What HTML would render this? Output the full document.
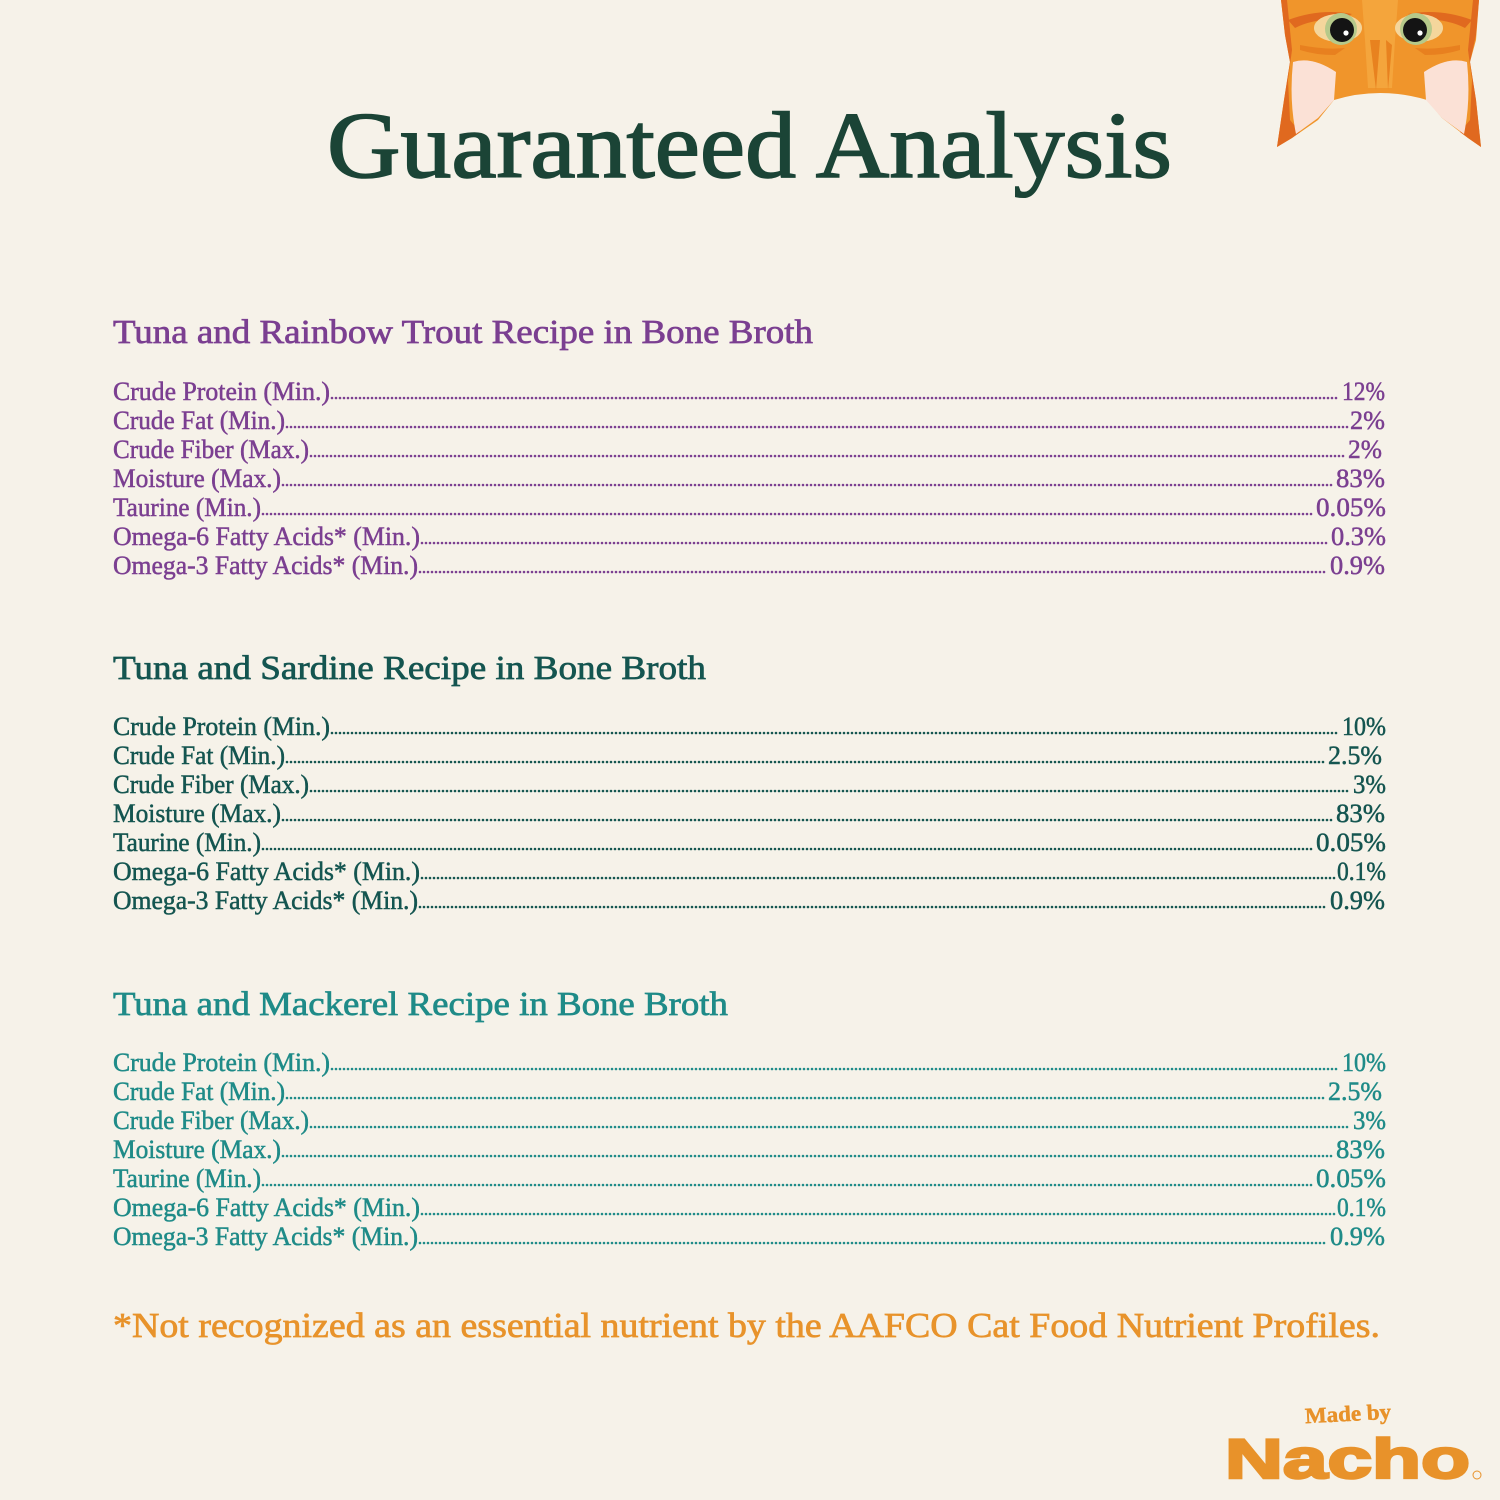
<!DOCTYPE html>
<html>
<head>
<meta charset="utf-8">
<style>
html,body{margin:0;padding:0;background:#f6f2e9;}
svg{display:block;}
</style>
</head>
<body>
<svg width="1500" height="1500" viewBox="0 0 1500 1500" xmlns="http://www.w3.org/2000/svg">
<rect width="1500" height="1500" fill="#f6f2e9"/>

<!-- Cat -->
<g>
  <path d="M1281,0 L1479,0 L1476,40 L1470,62 L1476,100 L1481,147 L1468,138 L1442,118 L1427,100 Q1380,86 1334,100 L1318,120 L1292,138 L1277,147 L1284,100 L1290,62 L1285,35 Z" fill="#f0952b"/>
  <path d="M1281,0 L1285,35 L1290,62 L1284,100 L1277,147 L1292,138 L1300,132 L1290,120 L1288,80 L1292,50 L1287,0 Z" fill="#e0691f"/>
  <path d="M1479,0 L1476,35 L1470,62 L1476,100 L1481,147 L1468,138 L1460,132 L1470,120 L1472,80 L1468,50 L1473,0 Z" fill="#e0691f"/>
  <path d="M1362,0 L1398,0 L1395,40 L1392,88 L1368,88 L1365,40 Z" fill="#f4a53c"/>
  <path d="M1370,40 L1376,90 L1380,40 Z M1386,40 L1388,90 L1392,45 Z" fill="#e8821f"/>
  <path d="M1293,62 Q1312,56 1336,72 L1334,100 L1318,118 L1296,134 Q1289,100 1293,62 Z" fill="#fbe1d6"/>
  <path d="M1467,62 Q1448,56 1424,72 L1426,100 L1442,118 L1464,134 Q1471,100 1467,62 Z" fill="#fbe1d6"/>
  <path d="M1288,20 Q1320,8 1352,14 L1340,20 Q1315,18 1295,28 Z" fill="#e0691f"/>
  <path d="M1472,20 Q1440,8 1408,14 L1420,20 Q1445,18 1465,28 Z" fill="#e0691f"/>
  <ellipse cx="1338" cy="28" rx="24" ry="14" fill="#f4d69c"/>
  <ellipse cx="1419" cy="28" rx="24" ry="14" fill="#f4d69c"/>
  <circle cx="1341" cy="29" r="16" fill="#b6c98a"/>
  <circle cx="1416" cy="29" r="16" fill="#b6c98a"/>
  <circle cx="1342" cy="30" r="12" fill="#141414"/>
  <circle cx="1415" cy="30" r="12" fill="#141414"/>
  <circle cx="1346" cy="33" r="2.6" fill="#ffffff"/>
  <circle cx="1420" cy="33" r="2.6" fill="#ffffff"/>
  <path d="M1300,45 Q1325,50 1345,48 L1335,55 Q1315,55 1300,50 Z" fill="#e8801f"/>
  <path d="M1460,45 Q1435,50 1415,48 L1425,55 Q1445,55 1460,50 Z" fill="#e8801f"/>
</g>

<!-- Title -->
<text x="327" y="177" font-family="Liberation Serif, serif" font-size="94" fill="#1b4436" stroke="#1b4436" stroke-width="1.6" textLength="845" lengthAdjust="spacingAndGlyphs">Guaranteed Analysis</text>

<!-- Section 1 -->
<g font-family="Liberation Serif, serif" fill="#7b3f91" stroke="#7b3f91" stroke-width="0.5">
  <text x="113" y="343" font-size="34" stroke-width="0.7" textLength="700" lengthAdjust="spacingAndGlyphs">Tuna and Rainbow Trout Recipe in Bone Broth</text>
  <g font-size="26">
    <text x="113" y="400" textLength="217" lengthAdjust="spacingAndGlyphs">Crude Protein (Min.)</text>
    <text x="1342" y="400" textLength="43" lengthAdjust="spacingAndGlyphs">12%</text>
    <text x="113" y="429" textLength="172" lengthAdjust="spacingAndGlyphs">Crude Fat (Min.)</text>
    <text x="1350" y="429" textLength="35" lengthAdjust="spacingAndGlyphs">2%</text>
    <text x="113" y="458" textLength="196" lengthAdjust="spacingAndGlyphs">Crude Fiber (Max.)</text>
    <text x="1348" y="458" textLength="34" lengthAdjust="spacingAndGlyphs">2%</text>
    <text x="113" y="487" textLength="168" lengthAdjust="spacingAndGlyphs">Moisture (Max.)</text>
    <text x="1336" y="487" textLength="49" lengthAdjust="spacingAndGlyphs">83%</text>
    <text x="113" y="516" textLength="148" lengthAdjust="spacingAndGlyphs">Taurine (Min.)</text>
    <text x="1316" y="516" textLength="70" lengthAdjust="spacingAndGlyphs">0.05%</text>
    <text x="113" y="545" textLength="307" lengthAdjust="spacingAndGlyphs">Omega-6 Fatty Acids* (Min.)</text>
    <text x="1331" y="545" textLength="55" lengthAdjust="spacingAndGlyphs">0.3%</text>
    <text x="113" y="574" textLength="305" lengthAdjust="spacingAndGlyphs">Omega-3 Fatty Acids* (Min.)</text>
    <text x="1330" y="574" textLength="55" lengthAdjust="spacingAndGlyphs">0.9%</text>
  </g>
  <g stroke="#7b3f91" stroke-width="2.6" stroke-linecap="round" stroke-dasharray="0 4" fill="none">
    <line x1="332" y1="398" x2="1340" y2="398"/>
    <line x1="287" y1="427" x2="1348" y2="427"/>
    <line x1="311" y1="456" x2="1346" y2="456"/>
    <line x1="283" y1="485" x2="1334" y2="485"/>
    <line x1="263" y1="514" x2="1314" y2="514"/>
    <line x1="422" y1="543" x2="1329" y2="543"/>
    <line x1="420" y1="572" x2="1328" y2="572"/>
  </g>
</g>

<!-- Section 2 -->
<g font-family="Liberation Serif, serif" fill="#145550" stroke="#145550" stroke-width="0.5">
  <text x="113" y="679" font-size="34" stroke-width="0.7" textLength="593" lengthAdjust="spacingAndGlyphs">Tuna and Sardine Recipe in Bone Broth</text>
  <g font-size="26">
    <text x="113" y="735" textLength="217" lengthAdjust="spacingAndGlyphs">Crude Protein (Min.)</text>
    <text x="1342" y="735" textLength="44" lengthAdjust="spacingAndGlyphs">10%</text>
    <text x="113" y="764" textLength="172" lengthAdjust="spacingAndGlyphs">Crude Fat (Min.)</text>
    <text x="1328" y="764" textLength="54" lengthAdjust="spacingAndGlyphs">2.5%</text>
    <text x="113" y="793" textLength="196" lengthAdjust="spacingAndGlyphs">Crude Fiber (Max.)</text>
    <text x="1353" y="793" textLength="33" lengthAdjust="spacingAndGlyphs">3%</text>
    <text x="113" y="822" textLength="168" lengthAdjust="spacingAndGlyphs">Moisture (Max.)</text>
    <text x="1336" y="822" textLength="49" lengthAdjust="spacingAndGlyphs">83%</text>
    <text x="113" y="851" textLength="148" lengthAdjust="spacingAndGlyphs">Taurine (Min.)</text>
    <text x="1316" y="851" textLength="70" lengthAdjust="spacingAndGlyphs">0.05%</text>
    <text x="113" y="880" textLength="307" lengthAdjust="spacingAndGlyphs">Omega-6 Fatty Acids* (Min.)</text>
    <text x="1337" y="880" textLength="49" lengthAdjust="spacingAndGlyphs">0.1%</text>
    <text x="113" y="909" textLength="305" lengthAdjust="spacingAndGlyphs">Omega-3 Fatty Acids* (Min.)</text>
    <text x="1330" y="909" textLength="55" lengthAdjust="spacingAndGlyphs">0.9%</text>
  </g>
  <g stroke="#145550" stroke-width="2.6" stroke-linecap="round" stroke-dasharray="0 4" fill="none">
    <line x1="332" y1="733" x2="1340" y2="733"/>
    <line x1="287" y1="762" x2="1326" y2="762"/>
    <line x1="311" y1="791" x2="1351" y2="791"/>
    <line x1="283" y1="820" x2="1334" y2="820"/>
    <line x1="263" y1="849" x2="1314" y2="849"/>
    <line x1="422" y1="878" x2="1335" y2="878"/>
    <line x1="420" y1="907" x2="1328" y2="907"/>
  </g>
</g>

<!-- Section 3 -->
<g font-family="Liberation Serif, serif" fill="#1f8b88" stroke="#1f8b88" stroke-width="0.5">
  <text x="113" y="1015" font-size="34" stroke-width="0.7" textLength="615" lengthAdjust="spacingAndGlyphs">Tuna and Mackerel Recipe in Bone Broth</text>
  <g font-size="26">
    <text x="113" y="1071" textLength="217" lengthAdjust="spacingAndGlyphs">Crude Protein (Min.)</text>
    <text x="1342" y="1071" textLength="44" lengthAdjust="spacingAndGlyphs">10%</text>
    <text x="113" y="1100" textLength="172" lengthAdjust="spacingAndGlyphs">Crude Fat (Min.)</text>
    <text x="1328" y="1100" textLength="54" lengthAdjust="spacingAndGlyphs">2.5%</text>
    <text x="113" y="1129" textLength="196" lengthAdjust="spacingAndGlyphs">Crude Fiber (Max.)</text>
    <text x="1353" y="1129" textLength="33" lengthAdjust="spacingAndGlyphs">3%</text>
    <text x="113" y="1158" textLength="168" lengthAdjust="spacingAndGlyphs">Moisture (Max.)</text>
    <text x="1336" y="1158" textLength="49" lengthAdjust="spacingAndGlyphs">83%</text>
    <text x="113" y="1187" textLength="148" lengthAdjust="spacingAndGlyphs">Taurine (Min.)</text>
    <text x="1316" y="1187" textLength="70" lengthAdjust="spacingAndGlyphs">0.05%</text>
    <text x="113" y="1216" textLength="307" lengthAdjust="spacingAndGlyphs">Omega-6 Fatty Acids* (Min.)</text>
    <text x="1337" y="1216" textLength="49" lengthAdjust="spacingAndGlyphs">0.1%</text>
    <text x="113" y="1245" textLength="305" lengthAdjust="spacingAndGlyphs">Omega-3 Fatty Acids* (Min.)</text>
    <text x="1330" y="1245" textLength="55" lengthAdjust="spacingAndGlyphs">0.9%</text>
  </g>
  <g stroke="#1f8b88" stroke-width="2.6" stroke-linecap="round" stroke-dasharray="0 4" fill="none">
    <line x1="332" y1="1069" x2="1340" y2="1069"/>
    <line x1="287" y1="1098" x2="1326" y2="1098"/>
    <line x1="311" y1="1127" x2="1351" y2="1127"/>
    <line x1="283" y1="1156" x2="1334" y2="1156"/>
    <line x1="263" y1="1185" x2="1314" y2="1185"/>
    <line x1="422" y1="1214" x2="1335" y2="1214"/>
    <line x1="420" y1="1243" x2="1328" y2="1243"/>
  </g>
</g>

<!-- Footnote -->
<text x="113" y="1337" font-family="Liberation Serif, serif" font-size="35" fill="#e8932b" stroke="#e8932b" stroke-width="0.7" textLength="1267" lengthAdjust="spacingAndGlyphs">*Not recognized as an essential nutrient by the AAFCO Cat Food Nutrient Profiles.</text>

<!-- Logo -->
<text x="1305" y="1421" font-family="Liberation Serif, serif" font-weight="bold" font-size="22" fill="#e8922a" stroke="#e8922a" stroke-width="0.5" textLength="86" lengthAdjust="spacingAndGlyphs" transform="rotate(-3 1348 1414)">Made by</text>
<text x="1225" y="1478" font-family="Liberation Sans, sans-serif" font-weight="bold" font-size="56" fill="#e8922a" stroke="#e8922a" stroke-width="2.5" textLength="245" lengthAdjust="spacingAndGlyphs">Nacho</text>
<circle cx="1477" cy="1475" r="4" fill="none" stroke="#e8922a" stroke-width="1"/>
</svg>
</body>
</html>
